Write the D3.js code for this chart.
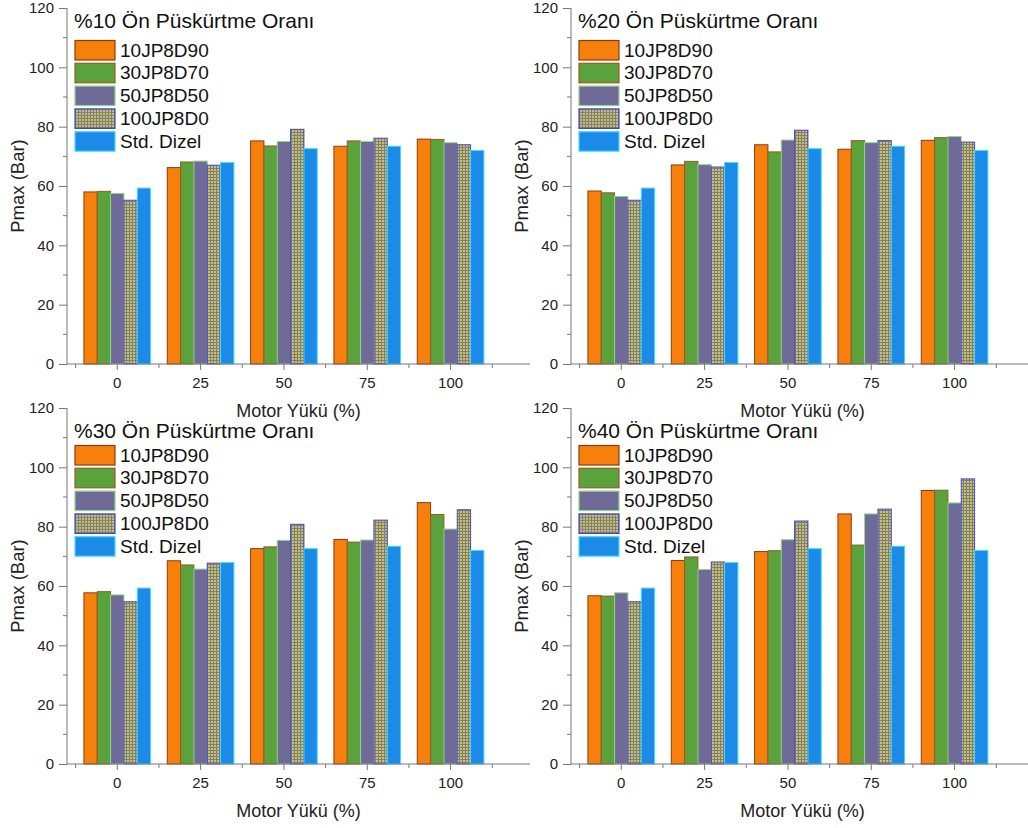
<!DOCTYPE html>
<html>
<head>
<meta charset="utf-8">
<script src="https://cdn.jsdelivr.net/npm/d3@7"></script>
<style>
  body { margin: 0; background: #fff; }
  svg { font-family: "Liberation Sans", Arial, sans-serif; display: block; }
</style>
</head>
<body>
<svg id="chart" width="1028" height="828"></svg>
<script>
// motor yükü kategorileri
var loads = ["0", "25", "50", "75", "100"];
var seriesNames = ["10JP8D90", "30JP8D70", "50JP8D50", "100JP8D0", "Std. Dizel"];
var titles = ["%10 Ön Püskürtme Oranı", "%20 Ön Püskürtme Oranı", "%30 Ön Püskürtme Oranı", "%40 Ön Püskürtme Oranı"];
var yTicks = [0, 20, 40, 60, 80, 100, 120];

// %10
var r10_jp10 = [58.0, 66.2, 75.2, 73.4, 75.8];
var r10_jp30 = [58.2, 68.1, 73.5, 75.2, 75.7];
var r10_jp50 = [57.5, 68.4, 75.0, 75.0, 74.6];
var r10_jp100 = [55.2, 67.0, 79.1, 76.1, 73.9];
// %20
var r20_jp10 = [58.3, 67.1, 73.9, 72.4, 75.4];
var r20_jp30 = [57.7, 68.3, 71.5, 75.3, 76.3];
var r20_jp50 = [56.5, 67.2, 75.5, 74.6, 76.7];
var r20_jp100 = [55.2, 66.4, 78.8, 75.3, 74.8];
// %30
var r30_jp10 = [57.7, 68.5, 72.6, 75.7, 88.1];
var r30_jp30 = [58.1, 67.1, 73.2, 74.8, 84.1];
var r30_jp50 = [57.0, 65.7, 75.4, 75.5, 79.2];
var r30_jp100 = [54.7, 67.7, 80.8, 82.2, 85.7];
// %40
var r40_jp10 = [56.7, 68.6, 71.6, 84.3, 92.2];
var r40_jp30 = [56.6, 69.8, 71.9, 73.8, 92.3];
var r40_jp50 = [57.7, 65.6, 75.6, 84.3, 88.0];
var r40_jp100 = [54.7, 68.1, 81.9, 85.9, 96.1];
// standart dizel (her panelde ayni)
var diesel = [59.3, 67.9, 72.6, 73.4, 72.0];

var panelData = [
    [r10_jp10, r10_jp30, r10_jp50, r10_jp100, diesel],
    [r20_jp10, r20_jp30, r20_jp50, r20_jp100, diesel],
    [r30_jp10, r30_jp30, r30_jp50, r30_jp100, diesel],
    [r40_jp10, r40_jp30, r40_jp50, r40_jp100, diesel]
];

var fills = ["#f7800c", "#5aa23c", "#6f6a98", "url(#hatch)", "#1c8be8"];
var strokes = ["#8a3c0c", "#9a5a20", "#8fd88a", "#4444cc", "#45dcff"];
var axisColor = "#777";

var svg = d3.select("#chart");

// ruitjespatroon voor 100JP8D0
var pat = svg.append("defs").append("pattern")
    .attr("id", "hatch")
    .attr("patternUnits", "userSpaceOnUse")
    .attr("width", 3).attr("height", 3);
pat.append("rect").attr("width", 3).attr("height", 3).attr("fill", "#ccc456");
pat.append("rect").attr("width", 3).attr("height", 1).attr("fill", "#7c7c86");
pat.append("rect").attr("width", 1).attr("height", 3).attr("fill", "#7c7c86");

// titleY / legY: afstand vanaf bovenkant as
var panels = [
    { left: 67, top: 8, bottom: 364, right: 530, titleY: 20, legY: 32.5 },
    { left: 571, top: 8, bottom: 364, right: 1034, titleY: 20, legY: 32.5 },
    { left: 67, top: 408, bottom: 764, right: 530, titleY: 30, legY: 37.5 },
    { left: 571, top: 408, bottom: 764, right: 1034, titleY: 30, legY: 37.5 }
];

panels.forEach(function(p, pi) {
    var g = svg.append("g");

    var x = d3.scaleBand()
        .domain(loads)
        .range([p.left + 8.6, p.left + 8.6 + 5 * 83.33])
        .paddingInner(0.2)
        .paddingOuter(0.1);

    var xs = d3.scaleBand()
        .domain(seriesNames)
        .range([0, x.bandwidth()]);

    var y = d3.scaleLinear().domain([0, 120]).range([p.bottom, p.top]);

    // bars
    seriesNames.forEach(function(s, si) {
        g.selectAll(".bar" + si)
            .data(panelData[pi][si])
            .enter()
            .append("rect")
            .attr("x", function(d, i) { return x(loads[i]) + xs(s); })
            .attr("y", function(d) { return y(d); })
            .attr("width", xs.bandwidth())
            .attr("height", function(d) { return y(0) - y(d); })
            .attr("fill", fills[si])
            .attr("stroke", strokes[si])
            .attr("stroke-width", 1);
    });

    // y as
    var yAxis = g.append("g")
        .attr("transform", "translate(" + p.left + ",0)")
        .call(d3.axisLeft(y).tickValues(yTicks).tickSize(8).tickPadding(5));
    yAxis.selectAll(".tick text").attr("font-size", 15).attr("fill", "#222")
        .attr("font-family", "Liberation Sans, Arial, sans-serif");
    yAxis.selectAll("line").attr("stroke", axisColor);
    yAxis.select(".domain").attr("stroke", axisColor).attr("d", "M0," + p.bottom + "V" + p.top);

    // minor y ticks
    g.append("g").selectAll("line")
        .data([10, 30, 50, 70, 90, 110])
        .enter().append("line")
        .attr("x1", p.left - 4).attr("x2", p.left)
        .attr("y1", function(d) { return y(d); })
        .attr("y2", function(d) { return y(d); })
        .attr("stroke", axisColor);

    // x as
    var xAxis = g.append("g")
        .attr("transform", "translate(0," + p.bottom + ")")
        .call(d3.axisBottom(x).tickSize(6).tickPadding(7));
    xAxis.selectAll(".tick text").attr("font-size", 15).attr("fill", "#222")
        .attr("font-family", "Liberation Sans, Arial, sans-serif");
    xAxis.selectAll("line").attr("stroke", axisColor);
    xAxis.select(".domain").attr("stroke", axisColor).attr("d", "M" + p.left + ",0H" + p.right);

    // minor x ticks tussen de groepen
    var minorX = loads.map(function(l) { return x(l) - x.step() * 0.1; });
    minorX.push(x(loads[4]) + x.bandwidth() + x.step() * 0.1);
    g.append("g").selectAll("line")
        .data(minorX)
        .enter().append("line")
        .attr("x1", function(d) { return d; }).attr("x2", function(d) { return d; })
        .attr("y1", p.bottom).attr("y2", p.bottom + 4)
        .attr("stroke", axisColor);

    // as titels
    g.append("text")
        .attr("x", p.left + 231.5)
        .attr("y", p.bottom + 53)
        .attr("text-anchor", "middle")
        .attr("font-size", 18)
        .attr("fill", "#222")
        .text("Motor Yükü (%)");

    g.append("text")
        .attr("transform", "translate(" + (p.left - 43) + "," + ((p.top + p.bottom) / 2) + ") rotate(-90)")
        .attr("text-anchor", "middle")
        .attr("font-size", 18.5)
        .attr("fill", "#222")
        .text("Pmax (Bar)");

    // legenda
    g.append("text")
        .attr("x", p.left + 7)
        .attr("y", p.top + p.titleY)
        .attr("font-size", 21)
        .attr("fill", "#111")
        .text(titles[pi]);

    var leg = g.selectAll(".leg")
        .data(seriesNames)
        .enter()
        .append("g")
        .attr("transform", function(d, i) { return "translate(" + (p.left + 8) + "," + (p.top + p.legY + i * 22.8) + ")"; });

    leg.append("rect")
        .attr("width", 40)
        .attr("height", 19.5)
        .attr("fill", function(d, i) { return fills[i]; })
        .attr("stroke", function(d, i) { return strokes[i]; })
        .attr("stroke-width", 1.2);

    leg.append("text")
        .attr("x", 45)
        .attr("y", 16)
        .attr("font-size", 19)
        .attr("fill", "#111")
        .text(function(d) { return d; });
});
</script>
</body>
</html>
